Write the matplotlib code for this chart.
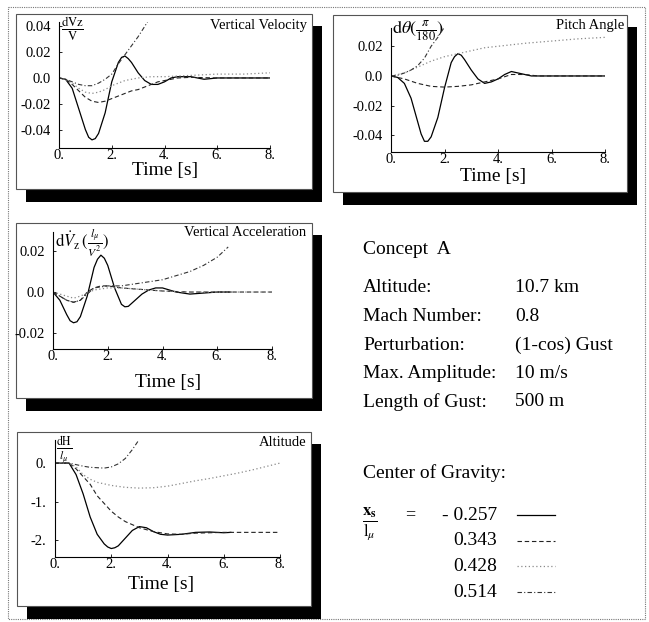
import matplotlib
matplotlib.use("Agg")
import matplotlib.pyplot as plt
from matplotlib.patches import Rectangle

plt.rcParams['font.family'] = ['Liberation Serif', 'DejaVu Serif']
plt.rcParams['mathtext.fontset'] = 'stix'

W, H = 649, 622

# ---- data (time in s) ----
# Vertical Velocity  dVz/V
vv_t_solid = [0, .25, .5, .75, 1., 1.125, 1.25, 1.375, 1.5, 1.75, 2., 2.25, 2.375, 2.5, 2.625, 2.75, 3., 3.25, 3.5, 3.75, 4., 4.25, 4.5, 4.75, 5., 5.25, 5.5, 6., 7., 8.]
vv_solid = [0, -.001, -.008, -.024, -.040, -.046, -.048, -.047, -.043, -.027, -.003, .012, .016, .017, .015, .012, .004, -.002, -.005, -.005, -.003, 0, .001, .001, .001, 0, -.001, 0, 0, 0]
vv_t_dash = [0, .25, .5, .75, 1., 1.25, 1.5, 1.75, 2., 2.25, 2.5, 2.75, 3., 3.25, 3.5, 3.75, 4., 4.25, 4.5, 5., 6., 7., 8.]
vv_dash = [0, -.001, -.005, -.010, -.015, -.018, -.019, -.018, -.016, -.014, -.012, -.010, -.009, -.007, -.005, -.003, -.002, -.001, 0, .0005, 0, 0, 0]
vv_t_dot = [0, .25, .5, .75, 1., 1.25, 1.5, 1.75, 2., 2.25, 2.5, 2.75, 3., 3.5, 4., 5., 6., 7., 8.]
vv_dot = [0, -.001, -.004, -.008, -.011, -.012, -.011, -.009, -.006, -.004, -.002, -.001, 0, .001, .001, .002, .003, .003, .004]
vv_t_dd = [0, .25, .5, .75, 1., 1.25, 1.5, 1.75, 2., 2.25, 2.5, 2.75, 3., 3.25, 3.4]
vv_dd = [0, -.001, -.003, -.005, -.006, -.006, -.004, -.001, .003, .011, .018, .025, .032, .040, .045]

# Pitch Angle  dtheta (pi/180)
pa_t_solid = [0, .25, .5, .75, 1., 1.125, 1.25, 1.375, 1.5, 1.75, 2., 2.25, 2.375, 2.5, 2.625, 2.75, 3., 3.25, 3.5, 3.75, 4., 4.25, 4.5, 4.75, 5., 5.25, 6., 7., 8.]
pa_solid = [0, -.001, -.005, -.015, -.031, -.039, -.044, -.044, -.041, -.028, -.008, .009, .013, .015, .014, .011, .004, -.002, -.005, -.004, -.002, .001, .003, .002, .001, 0, 0, 0, 0]
pa_t_dash = [0, .5, 1., 1.5, 2., 2.5, 3., 3.5, 4., 4.5, 5., 5.5, 6., 7., 8.]
pa_dash = [0, -.002, -.005, -.007, -.0075, -.007, -.006, -.004, -.002, .001, .001, 0, 0, 0, 0]
pa_t_dot = [0, .5, 1., 1.5, 2., 2.5, 3., 3.5, 4., 5., 6., 7., 8.]
pa_dot = [0, .002, .006, .010, .013, .015, .017, .019, .020, .022, .0235, .025, .026]
pa_t_dd = [0, .25, .5, .75, 1., 1.25, 1.5, 1.75, 2.]
pa_dd = [0, .0005, .002, .004, .007, .012, .020, .026, .033]

# Vertical Acceleration  dVz' (l_mu / V^2)
va_t_solid = [0, .25, .5, .625, .75, .875, 1., 1.25, 1.5, 1.625, 1.75, 1.875, 2., 2.25, 2.5, 2.625, 2.75, 3., 3.25, 3.5, 3.75, 4., 4.25, 4.5, 4.75, 5., 5.5, 6., 6.5]
va_solid = [0, -.004, -.011, -.014, -.015, -.0145, -.012, -.002, .012, .016, .018, .0165, .013, .002, -.006, -.0072, -.007, -.004, -.001, .001, .002, .002, .001, 0, -.0005, -.001, -.0005, 0, 0]
va_t_dash = [0, .25, .5, .75, 1., 1.25, 1.5, 1.75, 2., 2.5, 3., 3.5, 4., 5., 6., 7., 8.]
va_dash = [0, -.002, -.004, -.005, -.004, 0, .002, .003, .003, .002, .0015, .001, .0005, 0, 0, 0, 0]
va_t_dot = [0, .5, .75, 1., 1.5, 2., 2.5, 3., 3.5, 4., 5., 6., 7., 8.]
va_dot = [0, -.002, -.003, -.002, .001, .002, .002, .0015, .001, .0005, 0, 0, 0, 0]
va_t_dd = [0, .25, .5, .75, 1., 1.25, 1.5, 2., 2.5, 3., 3.5, 4., 4.5, 5., 5.5, 6., 6.4]
va_dd = [0, -.002, -.004, -.005, -.004, -.001, .002, .003, .003, .004, .005, .006, .008, .010, .013, .017, .022]

# Altitude  dH / l_mu
al_t_solid = [0, .5, .75, 1., 1.25, 1.5, 1.75, 1.875, 2., 2.125, 2.25, 2.5, 2.75, 3., 3.25, 3.5, 3.75, 4., 4.5, 5., 5.5, 6., 6.25]
al_solid = [0, 0, -.3, -.8, -1.4, -1.85, -2.1, -2.18, -2.22, -2.2, -2.15, -1.95, -1.75, -1.65, -1.68, -1.78, -1.85, -1.87, -1.85, -1.8, -1.79, -1.81, -1.8]
al_t_dash = [0, .5, .75, 1., 1.25, 1.5, 1.75, 2., 2.25, 2.5, 2.75, 3., 3.5, 4., 4.5, 5., 6., 7., 8.]
al_dash = [0, 0, -.15, -.35, -.55, -.85, -1.05, -1.25, -1.4, -1.52, -1.6, -1.68, -1.78, -1.84, -1.85, -1.82, -1.8, -1.8, -1.8]
al_t_dot = [0, .5, .75, 1., 1.25, 1.5, 2., 2.5, 3., 3.5, 4., 4.5, 5., 5.5, 6., 6.5, 7., 7.5, 8.]
al_dot = [0, 0, -.1, -.3, -.42, -.5, -.58, -.63, -.65, -.64, -.6, -.53, -.46, -.4, -.33, -.26, -.18, -.09, 0]
al_t_dd = [0, .5, .75, 1., 1.25, 1.5, 1.75, 2., 2.25, 2.5, 2.75, 3.]
al_dd = [0, 0, -.04, -.08, -.11, -.12, -.13, -.1, -.02, .12, .35, .62]

cg_values = ['- 0.257', '0.343', '0.428', '0.514']
info_labels = ['Altitude:', 'Mach Number:', 'Perturbation:', 'Max. Amplitude:', 'Length of Gust:']
info_values = ['10.7 km', '0.8', '(1-cos) Gust', '10 m/s', '500 m']

styles = [
    dict(color='black', lw=0.9, ls='-'),
    dict(color='#222222', lw=0.8, ls=(0, (4, 2.5))),
    dict(color='#8a8a8a', lw=0.9, ls=(0, (1, 2))),
    dict(color='#333333', lw=0.8, ls=(0, (4, 2, 1, 2))),
]

fig = plt.figure(figsize=(W / 100, H / 100), dpi=100)
bg = fig.add_axes([0, 0, 1, 1])
bg.set_xlim(0, W)
bg.set_ylim(H, 0)
bg.axis('off')

# outer dotted frame
bg.add_patch(Rectangle((8, 7), 637, 612, fill=False, ec='#777777', lw=0.8, ls=(0, (1, 1))))


def panel(x0, y0, x1, y1):
    bg.add_patch(Rectangle((x0 + 10, y0 + 12), x1 - x0, y1 - y0 + 1, fc='black', ec='none'))
    bg.add_patch(Rectangle((x0, y0), x1 - x0, y1 - y0, fc='white', ec='#555555', lw=0.8))


def px_axes(x0, y0, x1, y1):
    ax = fig.add_axes([x0 / W, 1 - y1 / H, (x1 - x0) / W, (y1 - y0) / H])
    ax.set_facecolor('none')
    for s in ('top', 'right'):
        ax.spines[s].set_visible(False)
    for s in ('left', 'bottom'):
        ax.spines[s].set_linewidth(0.8)
    ax.tick_params(direction='in', length=2.5, width=0.6, labelsize=10.5)
    ax.tick_params(axis='y', pad=6)
    ax.tick_params(axis='x', pad=1)
    ax.set_xlim(0, 8)
    ax.set_xticks([0, 2, 4, 6, 8])
    ax.set_xticklabels(['0.', '2.', '4.', '6.', '8.'])
    return ax


def curves(ax, series):
    for (t, v), st in zip(series, styles):
        ax.plot(t, v, **st)


panel(16, 14, 312, 189)
panel(333, 15, 627, 192)
panel(16, 223, 312, 398)
panel(17, 432, 311, 606)

# Vertical Velocity
ax1 = px_axes(59, 22, 270, 148)
ax1.set_ylim(-0.0543, 0.0434)
ax1.set_yticks([0.04, 0.02, 0, -0.02, -0.04])
ax1.set_yticklabels(['0.04', '0.02', '0.0', '-0.02', '-0.04'])
curves(ax1, [(vv_t_solid, vv_solid), (vv_t_dash, vv_dash), (vv_t_dot, vv_dot), (vv_t_dd, vv_dd)])

# Pitch Angle
ax2 = px_axes(391, 28, 605, 152)
ax2.set_ylim(-0.0512, 0.0323)
ax2.set_yticks([0.02, 0, -0.02, -0.04])
ax2.set_yticklabels(['0.02', '0.0', '-0.02', '-0.04'])
curves(ax2, [(pa_t_solid, pa_solid), (pa_t_dash, pa_dash), (pa_t_dot, pa_dot), (pa_t_dd, pa_dd)])

# Vertical Acceleration
ax3 = px_axes(53, 232, 272, 349)
ax3.set_ylim(-0.0278, 0.0293)
ax3.set_yticks([0.02, 0, -0.02])
ax3.set_yticklabels(['0.02', '0.0', '-0.02'])
curves(ax3, [(va_t_solid, va_solid), (va_t_dash, va_dash), (va_t_dot, va_dot), (va_t_dd, va_dd)])

# Altitude
ax4 = px_axes(55, 440, 280, 557)
ax4.set_ylim(-2.44, 0.6)
ax4.set_yticks([0, -1, -2])
ax4.set_yticklabels(['0.', '-1.', '-2.'])
curves(ax4, [(al_t_solid, al_solid), (al_t_dash, al_dash), (al_t_dot, al_dot), (al_t_dd, al_dd)])

# panel titles, axis labels
bg.text(307, 25, 'Vertical Velocity', ha='right', va='center', fontsize=10.5)
bg.text(624, 26, 'Pitch Angle', ha='right', va='center', fontsize=10.5)
bg.text(306, 232, 'Vertical Acceleration', ha='right', va='center', fontsize=10.5)
bg.text(306, 442, 'Altitude', ha='right', va='center', fontsize=10.5)

bg.text(165, 171, 'Time [s]', ha='center', va='center', fontsize=14)
bg.text(493, 176, 'Time [s]', ha='center', va='center', fontsize=14)
bg.text(168, 383, 'Time [s]', ha='center', va='center', fontsize=14)
bg.text(161, 585, 'Time [s]', ha='center', va='center', fontsize=14)

bg.text(61, 29, r'$\frac{\mathrm{dVz}}{\mathrm{V}}$', ha='left', va='center', fontsize=13)
bg.text(392, 31, r'$\mathrm{d}\theta(\frac{\pi}{180})$', ha='left', va='center', fontsize=13)
bg.text(55, 243, r'$\mathrm{d}\dot{V}_\mathrm{z}\,(\frac{l_\mu}{V^2})$', ha='left', va='center', fontsize=12)
bg.text(56, 450, r'$\frac{\mathrm{dH}}{l_\mu}$', ha='left', va='center', fontsize=12)

# info panel
bg.text(363, 250, 'Concept  A', ha='left', va='center', fontsize=14)
for i, (lab, val) in enumerate(zip(info_labels, info_values)):
    y = 288 + i * 28.5
    bg.text(363, y, lab, ha='left', va='center', fontsize=14)
    bg.text(515, y, val, ha='left', va='center', fontsize=14)

bg.text(363, 473, 'Center of Gravity:', ha='left', va='center', fontsize=14)
bg.text(362, 524, r'$\frac{\mathbf{x}_\mathbf{s}}{\mathrm{l}_\mu}$', ha='left', va='center', fontsize=17)
bg.text(410, 515, '=', ha='center', va='center', fontsize=13)
for i, (val, st) in enumerate(zip(cg_values, styles)):
    y = 515 + i * 25.7
    bg.text(497, y, val, ha='right', va='center', fontsize=14)
    bg.plot([517, 555], [y, y], **st)

fig.savefig('out.png', dpi=100)
